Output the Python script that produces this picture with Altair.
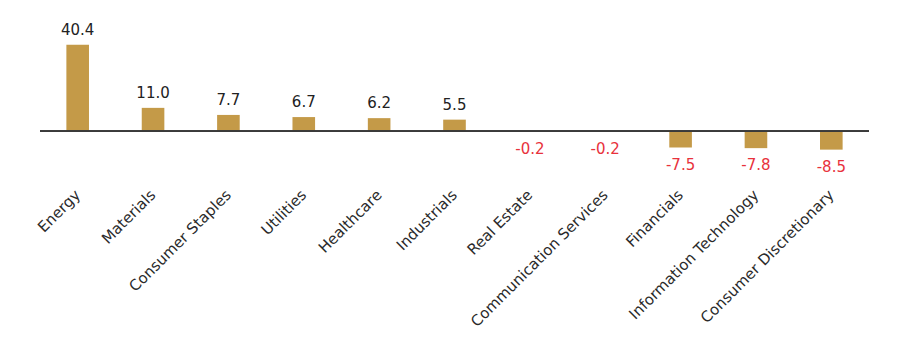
import altair as alt
import pandas as pd

categories = ["Energy", "Materials", "Consumer Staples", "Utilities", "Healthcare",
              "Industrials", "Real Estate", "Communication Services", "Financials",
              "Information Technology", "Consumer Discretionary"]
values = [40.4, 11.0, 7.7, 6.7, 6.2, 5.5, -0.2, -0.2, -7.5, -7.8, -8.5]
labels = ["40.4", "11.0", "7.7", "6.7", "6.2", "5.5", "-0.2", "-0.2", "-7.5", "-7.8", "-8.5"]

df = pd.DataFrame({"cat": categories, "val": values, "lab": labels, "zero": [0.0] * len(values)})

FONT = "DejaVu Sans"
BAR = "#C49A48"

x = alt.X("cat:N", sort=categories, title=None,
          scale=alt.Scale(paddingInner=0.7, paddingOuter=0.35),
          axis=alt.Axis(domain=False, ticks=False, labelAngle=-45, labelAlign="right",
                        labelBaseline="middle", labelPadding=7, labelFont=FONT,
                        labelFontSize=15, labelColor="#2a2a2a", labelLimit=400))
y = alt.Y("val:Q", title=None, scale=alt.Scale(domain=[-25, 52], nice=False, zero=False),
          axis=None)

base = alt.Chart(df)

bars = base.mark_bar(color=BAR).encode(x=x, y=y, y2="zero:Q")

pos = base.transform_filter("datum.val >= 0").mark_text(
    baseline="bottom", dy=-7, font=FONT, fontSize=15, color="#222222"
).encode(x=x, y=y, text="lab:N")

neg = base.transform_filter("datum.val < 0").mark_text(
    baseline="top", dy=10, font=FONT, fontSize=15, color="#E8323C"
).encode(x=x, y=y, text="lab:N")

zero = base.mark_rule(color="#3a3a3a", strokeWidth=1.2).encode(
    y=alt.Y("zero:Q", axis=None)
)

chart = alt.layer(bars, zero, pos, neg).properties(
    width=829, height=165,
    padding={"left": 40, "top": 20, "right": 38, "bottom": 170},
    autosize=alt.AutoSizeParams(type="none"),
    background="white",
).configure_view(strokeWidth=0, stroke=None)

chart.save("out.html", embed_options={"renderer": "svg", "actions": False})
